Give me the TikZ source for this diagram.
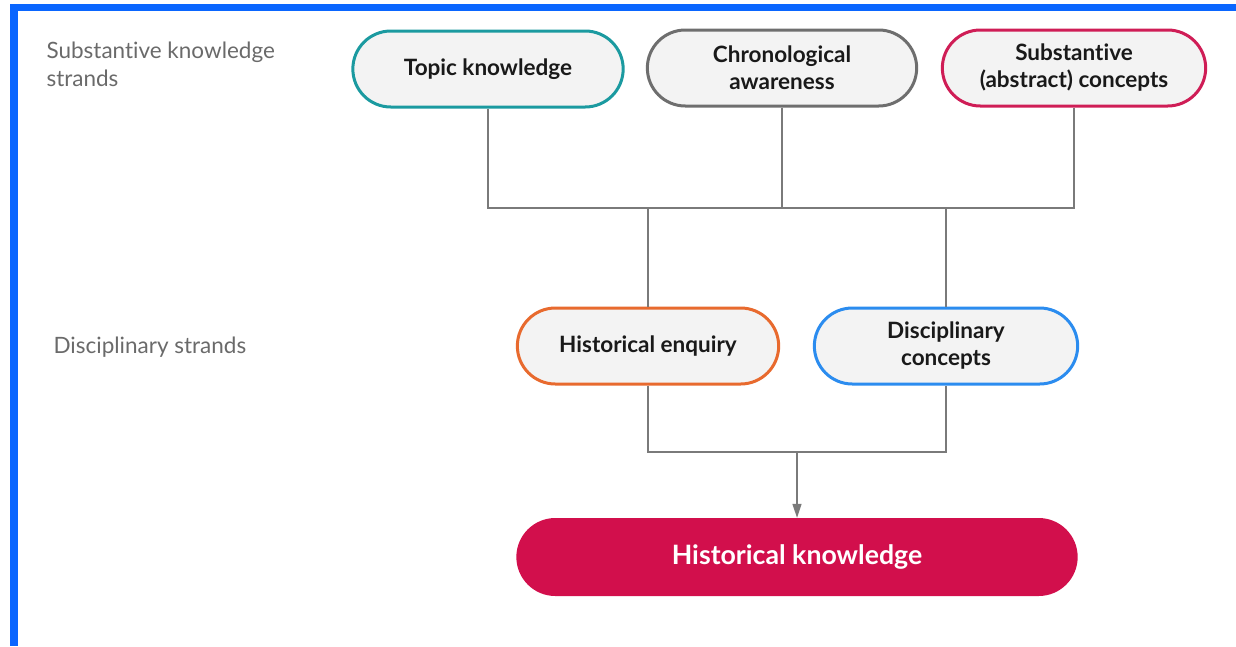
\documentclass[tikz,border=0pt]{standalone}
\usepackage{fontspec}
\setmainfont{Lato}[Ligatures={NoCommon,NoRare}]
\usetikzlibrary{shapes.misc,arrows.meta}

\definecolor{framebl}{HTML}{0A66FF}
\definecolor{teal1}{HTML}{1B9AA0}
\definecolor{gray1}{HTML}{6E6E6E}
\definecolor{crim1}{HTML}{CF1D56}
\definecolor{orng1}{HTML}{E86A2E}
\definecolor{blue1}{HTML}{2B8CEF}
\definecolor{resred}{HTML}{D20F4C}
\definecolor{boxbg}{HTML}{F3F3F3}
\definecolor{linkgray}{HTML}{7A7A7A}
\definecolor{labgray}{HTML}{6A6A6A}

\begin{document}
\begin{tikzpicture}[x=1pt,y=-1pt,
    strand/.style={rounded rectangle, draw, line width=3pt, fill=boxbg,
      minimum height=76pt, align=center, text=black!90,
      font=\fontsize{22.5}{27}\selectfont\bfseries},
    result/.style={rounded rectangle, fill=resred, minimum height=78pt,
      minimum width=568pt, text=white, font=\fontsize{26.7}{30}\selectfont\bfseries},
    rowlabel/.style={anchor=west, align=left, text=labgray,
      font=\fontsize{22.5}{28}\selectfont},
    link/.style={draw=linkgray, line width=1.4pt}]

  \useasboundingbox (0,0) rectangle (1236,646);

  % blue frame
  \fill[framebl] (10,4) rectangle (1236,11);
  \fill[framebl] (10,4) rectangle (18,646);

  % row labels
  \node[rowlabel] (sublab) at (43,64) {Substantive knowledge\\strands};
  \node[rowlabel] (dislab) at (50,347) {Disciplinary strands};

  % substantive strands
  \begin{scope}[every node/.append style={strand}]
    \node[draw=teal1, minimum width=277pt] (topic)  at (488,69) {Topic knowledge};
    \node[draw=gray1, minimum width=276pt] (chrono) at (782,68) {Chronological\\awareness};
    \node[draw=crim1, minimum width=270pt] (subst)  at (1074,68) {Substantive\\(abstract) concepts};
  \end{scope}

  % disciplinary strands
  \begin{scope}[every node/.append style={strand}]
    \node[draw=orng1, minimum width=268pt] (enquiry)  at (648,346) {Historical enquiry};
    \node[draw=blue1, minimum width=270pt] (concepts) at (946,346) {Disciplinary\\concepts};
  \end{scope}

  \node[result] (hist) at (797,557) {Historical knowledge};

  \coordinate (topbar) at (782,208);
  \coordinate (lowbar) at (797,452);

  % connectors
  \path[link] (topic.south) |- (topbar);
  \path[link] (subst.south) |- (topbar);
  \path[link] (chrono.south) -- (topbar);
  \path[link] (topbar -| enquiry.north) -- (enquiry.north);
  \path[link] (topbar -| concepts.north) -- (concepts.north);
  \path[link] (enquiry.south) |- (lowbar);
  \path[link] (concepts.south) |- (lowbar);
  \path[link, -{Triangle[length=14pt,width=9pt]}] (lowbar) -- (hist.north);

\end{tikzpicture}
\end{document}
